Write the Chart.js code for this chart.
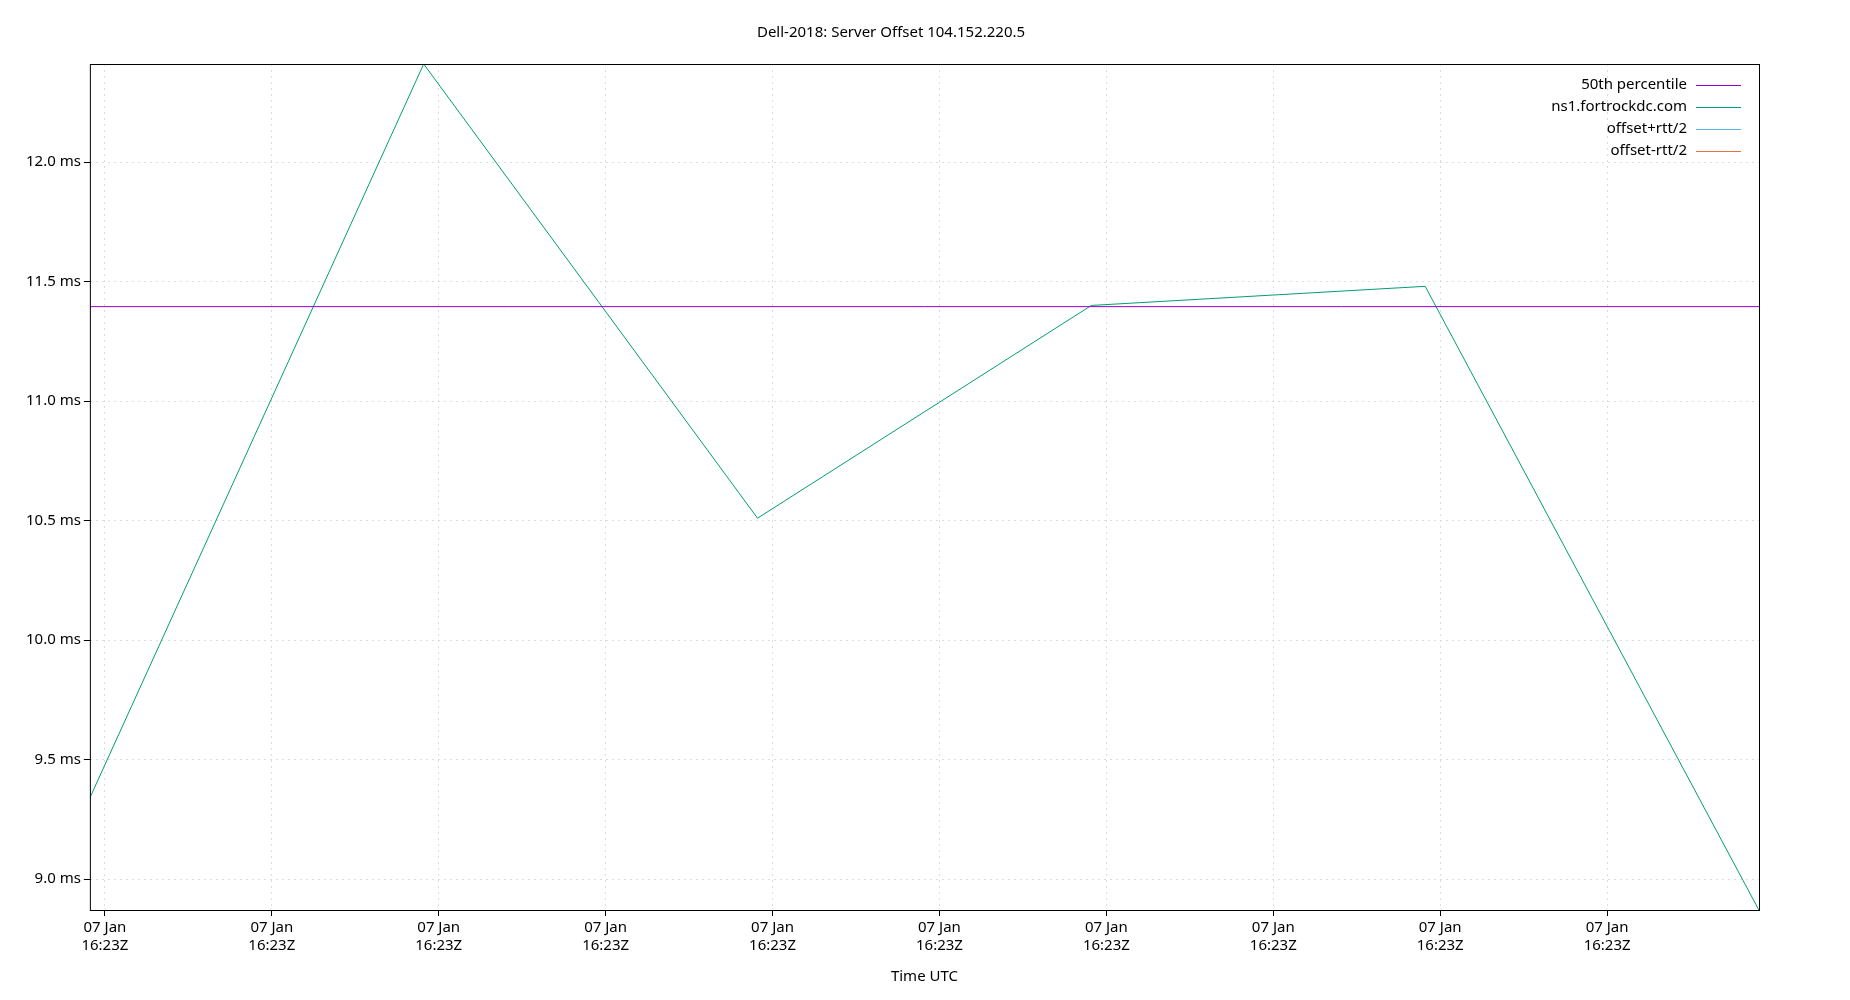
<!DOCTYPE html>
<html>
<head>
<meta charset="utf-8">
<script src="https://cdn.jsdelivr.net/npm/chart.js@4/dist/chart.umd.min.js"></script>
<style>
  html, body { margin: 0; background: #fff; }
  #wrap { width: 1850px; height: 1000px; }
</style>
</head>
<body>
<div id="wrap"><canvas id="offsetChart"></canvas></div>
<script>
// sample index (one step per poll) and offset in ms
const sampleIdx = [0, 1, 2, 3, 4, 5];
const offsetMs = [9.34, 12.41, 10.51, 11.40, 11.48, 8.87];
const median = 11.395;
const seriesNames = ['50th percentile', 'ns1.fortrockdc.com', 'offset+rtt/2', 'offset-rtt/2'];
const seriesColors = ['#9400d3', '#009e73', '#56b4e9', '#e6704a'];
const xTickPos = [0.045, 0.545, 1.045, 1.545, 2.045, 2.545, 3.045, 3.545, 4.045, 4.545];
const xTickLabel = ['07 Jan', '16:23Z'];
const yTicks = [9.0, 9.5, 10.0, 10.5, 11.0, 11.5, 12.0];

const fontFam = "'Noto Sans', 'DejaVu Sans', sans-serif";

// gnuplot-ish legend: text right-aligned, then a short line sample
const gnuLegend = {
  id: 'gnuLegend',
  afterDraw(chart) {
    const ctx = chart.ctx, a = chart.chartArea;
    ctx.save();
    ctx.font = '15px ' + fontFam;
    ctx.textAlign = 'right';
    ctx.textBaseline = 'middle';
    seriesNames.forEach((name, i) => {
      const y = a.top + 21 + i * 22;
      ctx.fillStyle = '#000';
      ctx.fillText(name, a.right - 72, y);
      ctx.strokeStyle = seriesColors[i];
      ctx.lineWidth = 1;
      ctx.beginPath();
      ctx.moveTo(a.right - 63, y + 0.5);
      ctx.lineTo(a.right - 18, y + 0.5);
      ctx.stroke();
    });
    // plot border
    ctx.strokeStyle = '#000';
    ctx.strokeRect(a.left + 0.5, a.top + 0.5, a.right - a.left, a.bottom - a.top);
    ctx.restore();
  }
};

new Chart(document.getElementById('offsetChart'), {
  type: 'line',
  data: {
    datasets: [
      { label: seriesNames[0], data: [{ x: 0, y: median }, { x: 5, y: median }],
        borderColor: seriesColors[0], borderWidth: 1, pointRadius: 0 },
      { label: seriesNames[1], data: sampleIdx.map((x, i) => ({ x: x, y: offsetMs[i] })),
        borderColor: seriesColors[1], borderWidth: 1, pointRadius: 0 },
      { label: seriesNames[2], data: [], borderColor: seriesColors[2] },
      { label: seriesNames[3], data: [], borderColor: seriesColors[3] }
    ]
  },
  options: {
    responsive: true,
    maintainAspectRatio: false,
    animation: false,
    layout: { padding: { top: 12, right: 91, left: 23, bottom: 10 } },
    plugins: {
      legend: { display: false },
      tooltip: { enabled: false },
      title: { display: true, text: 'Dell-2018: Server Offset 104.152.220.5',
        color: '#000', font: { family: fontFam, size: 15, weight: 'normal' }, padding: { top: 12, bottom: 22 } }
    },
    scales: {
      x: {
        type: 'linear', min: 0, max: 5,
        afterBuildTicks: s => { s.ticks = xTickPos.map(v => ({ value: v })); },
        ticks: { callback: () => xTickLabel, color: '#000', maxRotation: 0,
          font: { family: fontFam, size: 15 } },
        grid: { color: '#dddddd', tickColor: '#000', tickLength: 6, drawTicks: true },
        border: { display: false, dash: [2, 4] },
        title: { display: true, text: 'Time UTC', color: '#000',
          font: { family: fontFam, size: 15 }, padding: { top: 10 } }
      },
      y: {
        min: 8.871, max: 12.41,
        afterBuildTicks: s => { s.ticks = yTicks.map(v => ({ value: v })); },
        ticks: { callback: v => v.toFixed(1) + ' ms', color: '#000',
          font: { family: fontFam, size: 15 } },
        grid: { color: '#dddddd', tickColor: '#000', tickLength: 6 },
        border: { display: false, dash: [2, 4] }
      }
    }
  },
  plugins: [gnuLegend]
});
</script>
</body>
</html>
